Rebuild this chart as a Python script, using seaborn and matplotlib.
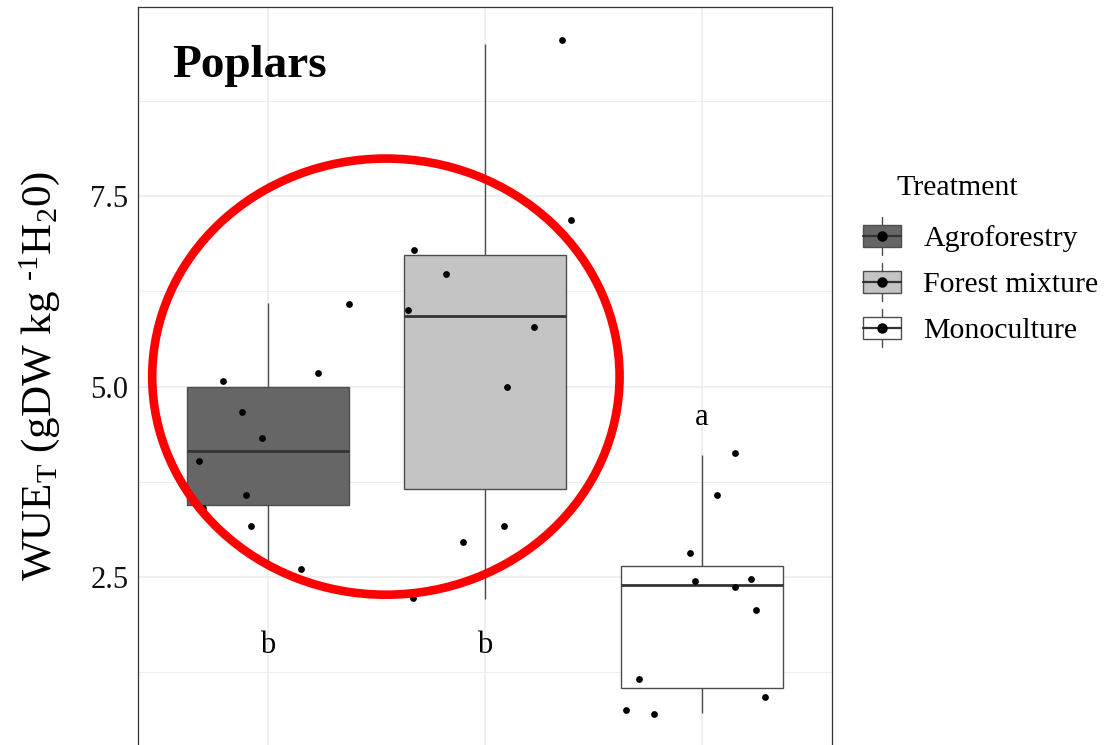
import numpy as np
import pandas as pd
import matplotlib
matplotlib.use("Agg")
import matplotlib.pyplot as plt
from matplotlib.patches import Patch, Rectangle, Ellipse
from matplotlib.lines import Line2D
from matplotlib.legend_handler import HandlerBase
import seaborn as sns

# ---- data -------------------------------------------------------------
treatments = ["Agroforestry", "Forest mixture", "Monoculture"]
fills = ["#666666", "#C4C4C4", "#FFFFFF"]

# box summaries: lower whisker, Q1, median, Q3, upper whisker
agro_box = [2.70, 3.44, 4.16, 5.00, 6.10]
forest_box = [2.21, 3.65, 5.92, 6.72, 9.50]
mono_box = [0.71, 1.05, 2.40, 2.64, 4.10]

# individual trees (values and horizontal jitter within the category)
agro_wue = [5.07, 4.67, 4.32, 4.02, 3.57, 3.40, 3.17, 2.60, 5.18, 6.08]
agro_jit = [-0.21, -0.12, -0.03, -0.32, -0.10, -0.30, -0.08, 0.15, 0.23, 0.375]
forest_wue = [9.55, 7.19, 6.79, 6.48, 6.00, 5.78, 4.99, 2.96, 3.17, 2.22]
forest_jit = [0.355, 0.395, -0.326, -0.181, -0.354, 0.227, 0.100, -0.100, 0.089, -0.332]
mono_wue = [4.13, 3.57, 2.82, 2.45, 2.47, 2.37, 2.07, 1.16, 0.92, 0.76, 0.70]
mono_jit = [0.155, 0.068, -0.055, -0.034, 0.226, 0.155, 0.249, -0.289, 0.289, -0.349, -0.221]

# significance letters
letters = ["b", "b", "a"]
letter_y = [1.5, 1.5, 4.5]

yticks = [2.5, 5.0, 7.5]
yminor = [1.25, 3.75, 6.25, 8.75]

# ---- tables -------------------------------------------------------------
box_df = pd.DataFrame({
    "Treatment": np.repeat(treatments, 5),
    "WUE": agro_box + forest_box + mono_box,
})
pts_df = pd.DataFrame({
    "pos": [0 + j for j in agro_jit] + [1 + j for j in forest_jit] + [2 + j for j in mono_jit],
    "WUE": agro_wue + forest_wue + mono_wue,
})

# ---- style --------------------------------------------------------------
sns.set_style("white")
plt.rcParams["font.family"] = ["Liberation Serif", "DejaVu Serif"]
plt.rcParams["mathtext.fontset"] = "custom"
plt.rcParams["mathtext.rm"] = "Liberation Serif"
plt.rcParams["mathtext.it"] = "Liberation Serif:italic"
plt.rcParams["mathtext.bf"] = "Liberation Serif:bold"
plt.rcParams["text.color"] = "black"
plt.rcParams["axes.labelcolor"] = "black"

W, H = 1106, 745
fig = plt.figure(figsize=(W / 100, H / 100), dpi=100)
ax = fig.add_axes([138 / W, -20 / H, 694 / W, 758 / H])

edge = "#4d4d4d"
sns.boxplot(
    data=box_df, x="Treatment", y="WUE", hue="Treatment", order=treatments,
    hue_order=treatments, palette=dict(zip(treatments, fills)), saturation=1,
    whis=(0, 100), width=0.75, linecolor=edge, linewidth=1.0, legend=False,
    medianprops=dict(color="#333333", linewidth=2.0),
    capprops=dict(visible=False), ax=ax,
)

sns.scatterplot(
    data=pts_df, x="pos", y="WUE", color="black", s=24, linewidth=0,
    legend=False, zorder=3, ax=ax,
)

for i, (lab, yv) in enumerate(zip(letters, letter_y)):
    ax.text(i, yv, lab, ha="center", va="baseline", fontsize=22,
            color="black", zorder=5)

ax.text(0.0486, 0.9077, "Poplars", transform=ax.transAxes, fontsize=34,
        fontweight="bold", ha="left", va="baseline", color="black", zorder=5)

# highlight ring around the two "b" groups
ax.add_patch(Ellipse((0.543, 5.13), 2.155, 5.724, fill=False,
                     edgecolor="#FF0000", linewidth=6.2, zorder=4, clip_on=False))

# ---- axes ---------------------------------------------------------------
ax.set_xlim(-0.6, 2.6)
ax.set_ylim(0.033, 9.981)
ax.set_xticks([0, 1, 2])
ax.set_yticks(yticks)
ax.set_yticklabels([f"{v:.1f}" for v in yticks])
ax.set_yticks(yminor, minor=True)
ax.set_axisbelow(True)
ax.grid(which="major", color="#EBEBEB", linewidth=1.1)
ax.grid(which="minor", axis="y", color="#EBEBEB", linewidth=0.6)
ax.tick_params(axis="x", length=0, labelbottom=False)
ax.tick_params(axis="y", which="major", length=3, width=0.8, color="#333333",
               pad=4, labelsize=22, labelcolor="#111111")
ax.tick_params(axis="y", which="minor", length=0)
for s in ax.spines.values():
    s.set_visible(True)
    s.set_color("#333333")
    s.set_linewidth(0.9)
ax.set_xlabel("")
ax.set_ylabel("WUE$_\\mathregular{T}$ (gDW kg $^\\mathregular{\u20101}$H$_\\mathregular{2}$0)",
              fontsize=31, va="center", ha="center", color="black")
ax.yaxis.set_label_coords(-0.1415, 0.513)


# ---- legend -------------------------------------------------------------
class BoxKeyHandler(HandlerBase):
    def create_artists(self, legend, orig_handle, xdescent, ydescent,
                       width, height, fontsize, trans):
        x0, y0 = -xdescent, -ydescent
        cx, cy = x0 + width / 2, y0 + height / 2
        bh = height * 0.58
        whisker = Line2D([cx, cx], [y0, y0 + height], color=edge, lw=1.0,
                         transform=trans)
        box = Rectangle((x0, cy - bh / 2), width, bh,
                        facecolor=orig_handle.get_facecolor(), edgecolor=edge,
                        lw=1.0, transform=trans)
        med = Line2D([x0, x0 + width], [cy, cy], color="#333333", lw=1.6,
                     transform=trans)
        dot = Line2D([cx], [cy], marker="o", ms=6.5, color="black", lw=0,
                     transform=trans)
        return [whisker, box, med, dot]


handles = [Patch(facecolor=c, label=t) for t, c in zip(treatments, fills)]
leg = fig.legend(
    handles=handles, handler_map={Patch: BoxKeyHandler()},
    loc="upper left", bbox_to_anchor=(863 / W, 1 - 217 / H),
    frameon=False, fontsize=21.5, handlelength=1.27, handleheight=1.58,
    labelspacing=0.27, handletextpad=0.75, borderpad=0, borderaxespad=0,
)
for t in leg.get_texts():
    t.set_color("black")
fig.text(896 / W, 1 - 195 / H, "Treatment", fontsize=21.5, ha="left",
         va="baseline", color="black")

fig.savefig("out.png", dpi=100)
